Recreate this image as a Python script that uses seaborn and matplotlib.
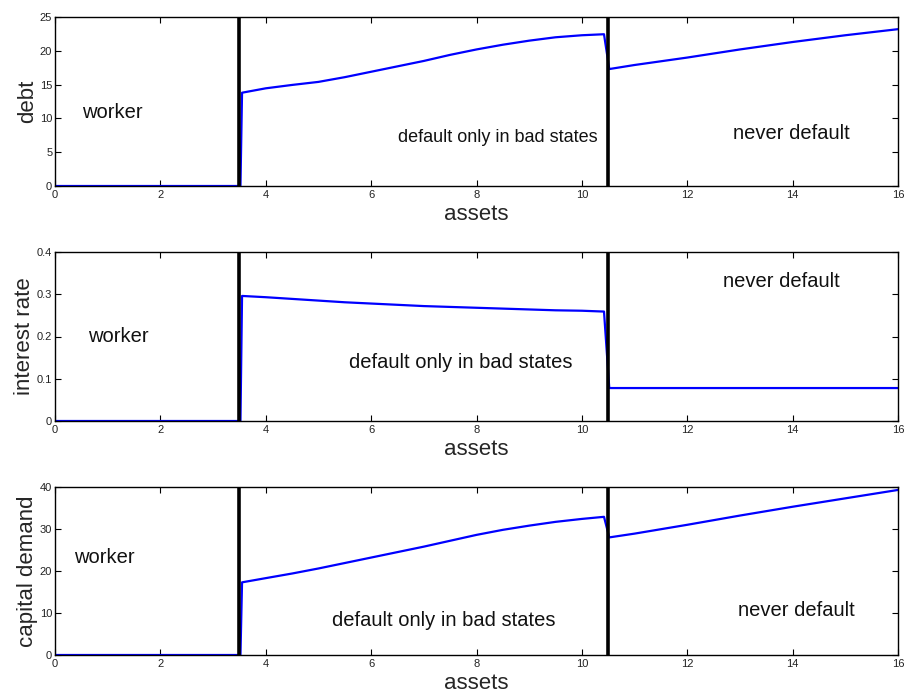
import numpy as np
import pandas as pd
import matplotlib
matplotlib.use("Agg")
import matplotlib.pyplot as plt
from matplotlib.ticker import FuncFormatter
import seaborn as sns

# Asset grid shared by the three policy functions
assets = [0.0, 3.52, 3.55, 4.0, 4.5, 5.0, 5.5, 6.0, 6.5, 7.0, 7.5, 8.0, 8.5, 9.0, 9.5,
          10.0, 10.42, 10.52, 11.0, 12.0, 13.0, 14.0, 15.0, 16.0]
debt = [0.0, 0.0, 13.8, 14.45, 14.95, 15.4, 16.1, 16.9, 17.7, 18.5, 19.4, 20.2, 20.9,
        21.5, 22.0, 22.3, 22.45, 17.3, 17.9, 19.0, 20.2, 21.3, 22.3, 23.2]
interest_rate = [0.0, 0.0, 0.296, 0.293, 0.289, 0.285, 0.281, 0.278, 0.275, 0.272, 0.270,
                 0.268, 0.266, 0.264, 0.262, 0.261, 0.259,
                 0.078, 0.078, 0.078, 0.078, 0.078, 0.078, 0.078]
capital_demand = [0.0, 0.0, 17.3, 18.3, 19.4, 20.6, 21.9, 23.2, 24.5, 25.8, 27.2, 28.6,
                  29.8, 30.8, 31.7, 32.4, 32.9, 28.0, 28.9, 31.0, 33.2, 35.3, 37.3, 39.3]

# Regime thresholds
thresholds = [3.5, 10.5]

x_ticks = list(range(0, 17, 2))
panels = [
    dict(col="debt", ylabel="debt", yticks=[0, 5, 10, 15, 20, 25], ylim=(0, 25),
         texts=[("worker", 0.51, 10.8, 14.5),
                ("default only in bad states", 6.51, 7.2, 13),
                ("never default", 12.86, 7.8, 14.5)]),
    dict(col="interest_rate", ylabel="interest rate", yticks=[0, 0.1, 0.2, 0.3, 0.4],
         ylim=(0, 0.4),
         texts=[("worker", 0.63, 0.2, 14.5),
                ("default only in bad states", 5.58, 0.138, 14.5),
                ("never default", 12.68, 0.33, 14.5)]),
    dict(col="capital_demand", ylabel="capital demand", yticks=[0, 10, 20, 30, 40],
         ylim=(0, 40),
         texts=[("worker", 0.36, 23.3, 14.5),
                ("default only in bad states", 5.26, 8.3, 14.5),
                ("never default", 12.97, 10.7, 14.5)]),
]

df = pd.DataFrame({"assets": assets, "debt": debt, "interest_rate": interest_rate,
                   "capital_demand": capital_demand})

sns.set_style("ticks")
plt.rcParams["font.family"] = ["Liberation Sans", "DejaVu Sans"]

fig = plt.figure(figsize=(9.06, 6.93), dpi=100)
left, width = 55 / 906, (898 - 55) / 906
boxes = [(1 - 186 / 693, 169 / 693), (1 - 421 / 693, 169 / 693), (1 - 655 / 693, 168 / 693)]

fmt = FuncFormatter(lambda v, _: f"{v:g}")

for spec, (bottom, height) in zip(panels, boxes):
    ax = fig.add_axes([left, bottom, width, height])
    sns.lineplot(data=df, x="assets", y=spec["col"], ax=ax, color=(0, 0, 1),
                 linewidth=1.6, zorder=2)
    for t in thresholds:
        ax.axvline(t, color="black", linewidth=2.6, zorder=3)
    for s, tx, ty, fs in spec["texts"]:
        ax.text(tx, ty, s, fontsize=fs, ha="left", va="center", color="#111111")
    ax.set_xlim(0, 16)
    ax.set_ylim(*spec["ylim"])
    ax.set_xticks(x_ticks)
    ax.set_yticks(spec["yticks"])
    ax.xaxis.set_major_formatter(fmt)
    ax.yaxis.set_major_formatter(fmt)
    ax.tick_params(direction="in", length=4, width=0.8, labelsize=8, pad=2,
                   top=True, right=True, colors="black")
    ax.tick_params(axis="x", labelcolor="#222222", pad=3)
    ax.tick_params(axis="y", labelcolor="#222222")
    for sp in ax.spines.values():
        sp.set_visible(True)
        sp.set_linewidth(1.0)
        sp.set_color("black")
    ax.set_xlabel("assets", fontsize=16, labelpad=2.5)
    ax.set_ylabel(spec["ylabel"], fontsize=16, labelpad=1)

fig.savefig("out.png", dpi=100)
